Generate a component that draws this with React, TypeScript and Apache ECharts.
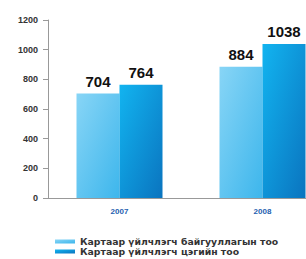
import React, { useEffect, useRef } from "react";
import * as echarts from "echarts";

const categories = ["2007", "2008"];
const seriesNames = [
  "Картаар үйлчлэгч байгууллагын тоо",
  "Картаар үйлчлэгч цэгийн тоо",
];
const seriesA = [704, 884];
const seriesB = [764, 1038];
const yTicks = [0, 200, 400, 600, 800, 1000, 1200];

export default function App() {
  const ref = useRef<HTMLDivElement>(null);
  useEffect(() => {
    const chart = echarts.init(ref.current!, null, { renderer: "svg" });
    const gA = new echarts.graphic.LinearGradient(0, 0, 1, 1, [
      { offset: 0, color: "#88d5f6" },
      { offset: 1, color: "#3db6ec" },
    ]);
    const gB = new echarts.graphic.LinearGradient(0, 0, 1, 1, [
      { offset: 0, color: "#12b4f0" },
      { offset: 1, color: "#0a74bf" },
    ]);
    const labelCfg = {
      show: true,
      position: "top" as const,
      distance: 5,
      fontFamily: "Liberation Sans",
      fontWeight: "bold" as const,
      fontSize: 15,
      color: "#111",
    };
    const legendBase = {
      orient: "horizontal",
      left: 55,
      padding: 0,
      itemWidth: 20,
      itemHeight: 4,
      icon: "rect",
      textStyle: {
        fontFamily: "DejaVu Sans",
        fontSize: 9.3,
        lineHeight: 9,
        fontWeight: "bold",
        color: "#333",
      },
    };
    chart.setOption({
      animation: false,
      backgroundColor: "#fff",
      grid: { left: 48, right: 0, top: 20, bottom: 61, containLabel: false },
      legend: [
        { ...legendBase, top: 237, data: [seriesNames[0]] },
        { ...legendBase, top: 247, data: [seriesNames[1]] },
      ],
      xAxis: {
        type: "category",
        data: categories,
        axisLine: { lineStyle: { color: "#999", width: 1 } },
        axisTick: { show: false },
        axisLabel: {
          fontFamily: "Liberation Sans",
          fontSize: 8,
          fontWeight: "bold",
          color: "#1f5fb0",
          margin: 9,
        },
      },
      yAxis: {
        type: "value",
        min: yTicks[0],
        max: yTicks[yTicks.length - 1],
        interval: 200,
        splitLine: { show: false },
        axisLine: { show: true, lineStyle: { color: "#999", width: 1 } },
        axisTick: { show: true, length: 5, lineStyle: { color: "#999" } },
        axisLabel: {
          fontFamily: "Liberation Sans",
          fontSize: 9,
          fontWeight: "bold",
          color: "#333",
          margin: 10,
          formatter: (v: number) => String(v),
        },
      },
      series: [
        {
          name: seriesNames[0],
          type: "bar",
          data: seriesA,
          barWidth: 43,
          barGap: "0%",
          itemStyle: { color: gA },
          label: labelCfg,
        },
        {
          name: seriesNames[1],
          type: "bar",
          data: seriesB,
          barWidth: 43,
          itemStyle: { color: gB },
          label: labelCfg,
        },
      ],
    });
    return () => chart.dispose();
  }, []);
  return (
    <div
      style={{
        position: "fixed",
        left: 0,
        top: 0,
        width: 306,
        height: 259,
        overflow: "hidden",
        background: "#fff",
      }}
    >
      <div ref={ref} style={{ width: 334, height: 259 }} />
    </div>
  );
}
